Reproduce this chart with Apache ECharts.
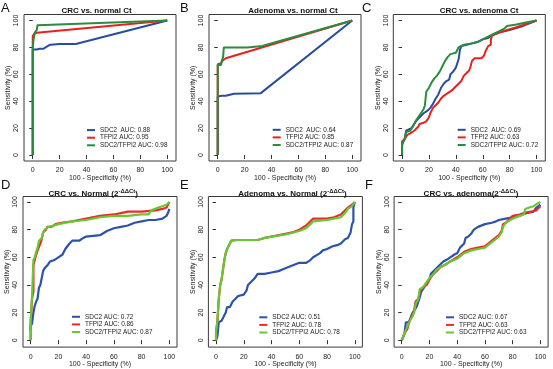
<!DOCTYPE html>
<html><head><meta charset="utf-8">
<script src="https://cdn.jsdelivr.net/npm/echarts@6/dist/echarts.min.js"></script>
<style>html,body{margin:0;padding:0;background:#fff}#c{width:553px;height:369px}</style>
</head><body><div id="c"></div>
<script>
// ---------------- data ----------------
const tickValues = [0, 20, 40, 60, 80, 100];
const panelLetters = ['A', 'B', 'C', 'D', 'E', 'F'];
const titleMain = ['CRC vs. normal Ct', 'Adenoma vs. normal Ct', 'CRC vs. adenoma Ct',
                   'CRC vs. Normal (2', 'Adenoma vs. Normal (2', 'CRC vs. adenoma(2'];
const titleSup = ['', '', '', '-ΔΔCt', '-ΔΔCt', '-ΔΔCt'];
const titleEnd = ['', '', '', ')', ')', ')'];
const xAxisName = '100 - Specificity (%)';
const yAxisName = 'Sensitivity (%)';

const legendA = ['SDC2  AUC: 0.88', 'TFPI2 AUC: 0.95', 'SDC2/TFPI2 AUC: 0.98'];
const legendB = ['SDC2  AUC: 0.64', 'TFPI2 AUC: 0.85', 'SDC2/TFPI2 AUC: 0.87'];
const legendC = ['SDC2  AUC: 0.69', 'TFPI2 AUC: 0.63', 'SDC2/TFPI2 AUC: 0.72'];
const legendD = ['SDC2 AUC: 0.72', 'TFPI2 AUC: 0.86', 'SDC2/TFPI2 AUC: 0.87'];
const legendE = ['SDC2 AUC: 0.51', 'TFPI2 AUC: 0.78', 'SDC2/TFPI2 AUC: 0.78'];
const legendF = ['SDC2 AUC: 0.67', 'TFPI2 AUC: 0.63', 'SDC2/TFPI2 AUC: 0.63'];

// [100 - specificity, sensitivity]
const A_sdc2 = [[0,0],[0,78.5],[3,78.5],[5,79],[8,79],[9,80],[11,81],[13,82],[20,82.5],[32,82.5],[100,100]];
const A_tfpi2 = [[0,0],[0,82],[0,88.5],[0.5,89],[1,90],[2,90.5],[3,91],[100,100]];
const A_combo = [[0,0],[0,80],[0.5,85],[1,88],[1.5,91],[2.5,92],[3,93],[3.5,96.5],[100,100]];

const B_sdc2 = [[0,0],[0,43.5],[3,44],[6,44],[6,45],[12,45.5],[12,46],[32,46],[100,100]];
const B_tfpi2 = [[0,0],[0,55],[0,67.5],[1,67.5],[2,68],[3,69],[4,70.5],[5,71.5],[6,72],[100,100]];
const B_combo = [[0,0],[0,67],[2.5,67],[3,70],[4,73],[4.5,80],[22,80],[22,81],[33,81],[33,82],[100,100]];

const C_sdc2 = [[0,0],[0,7],[1,10],[2,12],[3,18],[5,19],[7,20],[9,23],[11,26],[14,29],[16,31],[19,33],[21,35],[23,38],[25,42],[27,45],[29,50],[31,53],[33,55],[35,56],[36,60],[38,62],[40,65],[41,68],[42,71],[43,78],[44,81],[48,82],[52,83],[56,84],[60,86],[64,87],[67,89],[72,91],[80,93],[90,96],[100,100]];
const C_tfpi2 = [[0,0],[0,10],[2,12],[4,15],[6,16],[9,18],[12,21],[13,23],[16,24],[18,25],[20,28],[21,31],[23,35],[25,37],[27,39],[29,42],[31,44],[34,46],[37,48],[39,50],[42,53],[44,55],[46,59],[48,61],[50,63],[51,66],[52,70],[54,72],[59,72],[61,74],[62,77],[64,81],[66,82],[66,86],[67,89],[75,92],[85,95],[100,100]];
const C_combo = [[0,0],[0,8],[2,12],[3,17],[6,18],[8,21],[10,25],[12,28],[14,31],[16,34],[17,37],[18,47],[20,50],[22,54],[24,57],[26,59],[28,62],[30,66],[32,70],[34,73],[36,75],[40,76],[41,77],[42,80],[43,81],[46,82],[52,83],[56,84],[60,86],[64,88],[68,90],[72,92],[76,94],[78,96],[85,97],[92,98.5],[100,100]];

const D_sdc2 = [[0,7],[0,10],[1,12],[2,20],[3,25],[4,28],[5,30],[6,38],[7,40],[8,45],[9,50],[10,52],[12,54],[14,57],[17,58],[20,60],[23,62],[25,66],[28,70],[30,72],[35,72],[38,74],[40,75],[50,76],[55,79],[60,81],[65,82],[70,83],[75,85],[80,86],[85,87],[90,87],[95,88],[98,90],[99,92],[100,95]];
const D_tfpi2 = [[0,0],[0,12],[1,30],[2,35],[2,54],[3,58],[4,62],[5,65],[7,70],[8,73],[9,78],[11,80],[12,82],[15,82],[18,84],[22,85],[30,86],[40,88],[50,90],[60,91],[65,92],[70,93],[80,93],[90,94],[95,95],[98,96],[99,98],[100,100]];
const D_combo = [[0,0],[0,14],[1,32],[2,58],[3,60],[4,64],[5,67],[6,72],[8,74],[9,78],[10,80],[13,82],[17,83],[20,84],[30,86],[40,87],[50,89],[60,90],[70,90],[80,91],[85,91],[87,94],[92,96],[95,97],[98,98],[100,100]];

const E_sdc2 = [[0,0],[1,3],[1.5,8],[2,13],[4,14],[5,16],[6,18],[7,20],[8,24],[10,24],[11,25],[12,28],[14,30],[16,32],[20,33],[22,36],[23,40],[25,42],[28,45],[30,48],[35,48],[40,49],[45,50],[50,52],[55,54],[60,56],[65,56],[68,58],[70,60],[75,63],[77,65],[80,66],[84,68],[88,69],[90,70],[93,73],[95,74],[97,78],[98,84],[99,86],[99,96],[100,100]];
const E_tfpi2 = [[0,0],[0,6],[1,14],[2,30],[3,40],[4,44],[5,51],[6,58],[7,63],[8,66],[9,68],[10,70],[11,72],[15,72.5],[30,72.5],[35,74],[40,75],[50,77],[55,78],[60,80],[65,83],[68,86],[70,88],[80,88],[85,89],[90,91],[93,94],[95,96],[98,98],[99,99],[100,100]];
const E_combo = [[0,0],[0,6],[1,14],[2,30],[3,40],[4,44],[5,51],[6,58],[7,63],[8,66],[9,68],[10,70],[11,72],[15,72.5],[30,72.5],[35,74],[40,75],[50,76.5],[60,79],[65,81],[68,84],[70,86],[80,87],[85,88],[90,89],[93,92],[95,95],[98,97],[99,98],[100,100]];

const F_sdc2 = [[0,0],[1,2],[2,5],[3,13],[5,13],[6,15],[7,18],[8,20],[10,23],[11,25],[12,28],[13,31],[14,35],[16,38],[17,40],[18,42],[20,44],[21,48],[23,50],[25,52],[27,54],[30,57],[32,58],[35,60],[38,62],[40,63],[42,67],[45,70],[46,74],[48,75],[50,77],[52,80],[55,82],[60,84],[65,85],[68,86],[70,87],[75,88],[80,89],[85,90],[90,92],[95,93],[97,96],[100,98]];
const F_tfpi2 = [[0,0],[1,1],[2,5],[4,8],[5,12],[6,15],[8,18],[9,22],[10,28],[12,30],[13,35],[15,38],[18,40],[20,44],[23,48],[25,50],[28,53],[32,55],[35,57],[40,60],[45,64],[50,66],[55,67],[60,68],[65,72],[70,76],[72,79],[73,84],[75,85],[78,88],[80,90],[85,91],[88,92],[93,93],[97,94],[98,95],[100,97]];
const F_combo = [[0,0],[1,1],[2,5],[4,10],[6,14],[7,16],[9,20],[10,26],[12,30],[13,37],[15,38],[18,42],[20,45],[23,48],[25,51],[28,53],[32,55],[35,57],[40,59],[45,63],[50,65],[55,66],[60,67],[65,71],[70,75],[72,78],[73,82],[75,85],[80,88],[85,90],[88,91],[89,95],[92,96],[95,97],[98,99],[100,100]];

// ---------------- layout / style ----------------
const panelData = [
  [A_sdc2, A_tfpi2, A_combo], [B_sdc2, B_tfpi2, B_combo], [C_sdc2, C_tfpi2, C_combo],
  [D_sdc2, D_tfpi2, D_combo], [E_sdc2, E_tfpi2, E_combo], [F_sdc2, F_tfpi2, F_combo]
];
const panelLegends = [legendA, legendB, legendC, legendD, legendE, legendF];
const topRow = { top: 14.5, height: 146.5, xmin: -6.5, xmax: 106.5, ymin: -4.5, ymax: 104.5, nameGap: 9 };
const botRow = { top: 196.5, height: 151.5, xmin: -5.5, xmax: 105.5, ymin: -5, ymax: 104, nameGap: 10 };
const layout = [
  Object.assign({ left: 24, width: 152 }, topRow),
  Object.assign({ left: 209, width: 152 }, topRow),
  Object.assign({ left: 393.3, width: 152 }, topRow),
  Object.assign({ left: 23, width: 154 }, botRow),
  Object.assign({ left: 208.4, width: 154 }, botRow),
  Object.assign({ left: 394.1, width: 154 }, botRow)
];
const legendPos = [[87, 126.3], [272.7, 126], [457.7, 126], [72, 313], [259.3, 313.5], [446, 313.5]];
const titlePos = [[96.5, 10], [293, 10], [479, 10], [93.3, 192.5], [292.5, 192.5], [471, 192.5]];
const letterPos = [[1, 8.5], [180, 8.5], [362, 8.5], [1, 185], [180, 185], [365, 185]];
const topColors = ['#2a4c9e', '#e8211f', '#2a8c3e'];
const botColors = ['#2d52ad', '#ec2a2a', '#66c833'];
const txt = '#222';
const FF = '"Liberation Sans", Arial, sans-serif';

const grid = [], xAxis = [], yAxis = [], series = [], legend = [], graphic = [];
layout.forEach((g, i) => {
  grid.push({ left: g.left, top: g.top, width: g.width, height: g.height, show: true,
    borderColor: '#3a3a3a', borderWidth: 1, backgroundColor: 'transparent' });
  xAxis.push({ gridIndex: i, type: 'value', min: g.xmin, max: g.xmax,
    axisLine: { show: false },
    axisTick: { show: true, length: 4, customValues: tickValues, lineStyle: { color: '#333' } },
    axisLabel: { customValues: tickValues, fontSize: 7, margin: 6, color: txt, fontFamily: FF },
    splitLine: { show: false },
    name: xAxisName, nameLocation: 'middle', nameGap: g.nameGap,
    nameTextStyle: { fontSize: 7, color: txt, fontFamily: FF } });
  yAxis.push({ gridIndex: i, type: 'value', min: g.ymin, max: g.ymax,
    axisLine: { show: false },
    axisTick: { show: true, length: 3.5, customValues: tickValues, lineStyle: { color: '#333' } },
    axisLabel: { customValues: tickValues, fontSize: 7, margin: 4, rotate: 90, color: txt, fontFamily: FF },
    splitLine: { show: false },
    name: yAxisName, nameLocation: 'middle', nameGap: 12,
    nameTextStyle: { fontSize: 7, color: txt, fontFamily: FF } });
  const cols = i < 3 ? topColors : botColors;
  panelData[i].forEach((d, k) => {
    series.push({ type: 'line', name: panelLegends[i][k], xAxisIndex: i, yAxisIndex: i,
      data: d, showSymbol: false, symbol: 'none', silent: true,
      lineStyle: { width: i < 3 ? 2 : 2.2, color: cols[k] }, itemStyle: { color: cols[k] } });
  });
  legend.push({ data: panelLegends[i].map((n, k) => ({ name: n, itemStyle: { color: cols[k] } })),
    orient: 'vertical', left: legendPos[i][0], top: legendPos[i][1],
    itemWidth: 8, itemHeight: 2, itemGap: 0, padding: 0, icon: 'rect', selectedMode: false,
    textStyle: { fontSize: 6.4, lineHeight: 7.6, color: txt, fontFamily: FF } });
  const rich = {
    b: { fontSize: 8, fontWeight: 'bold', fill: '#111', fontFamily: FF, lineHeight: 10, verticalAlign: 'bottom' },
    s: { fontSize: 6, fontWeight: 'bold', fill: '#111', fontFamily: FF, lineHeight: 6, padding: [0, 0, 3.5, 0], verticalAlign: 'bottom' }
  };
  let t = '{b|' + titleMain[i] + '}';
  if (titleSup[i]) t += '{s|' + titleSup[i] + '}{b|' + titleEnd[i] + '}';
  graphic.push({ type: 'text', x: titlePos[i][0], y: titlePos[i][1],
    style: { text: t, rich: rich, align: 'center', verticalAlign: 'middle' } });
  graphic.push({ type: 'text', x: letterPos[i][0], y: letterPos[i][1],
    style: { text: panelLetters[i], fontSize: 13, fill: '#111', fontFamily: FF, align: 'left', verticalAlign: 'middle' } });
});

const chart = echarts.init(document.getElementById('c'), null, { renderer: 'canvas' });
chart.setOption({ animation: false, textStyle: { fontFamily: FF }, grid, xAxis, yAxis, series, legend, graphic });
</script></body></html>
